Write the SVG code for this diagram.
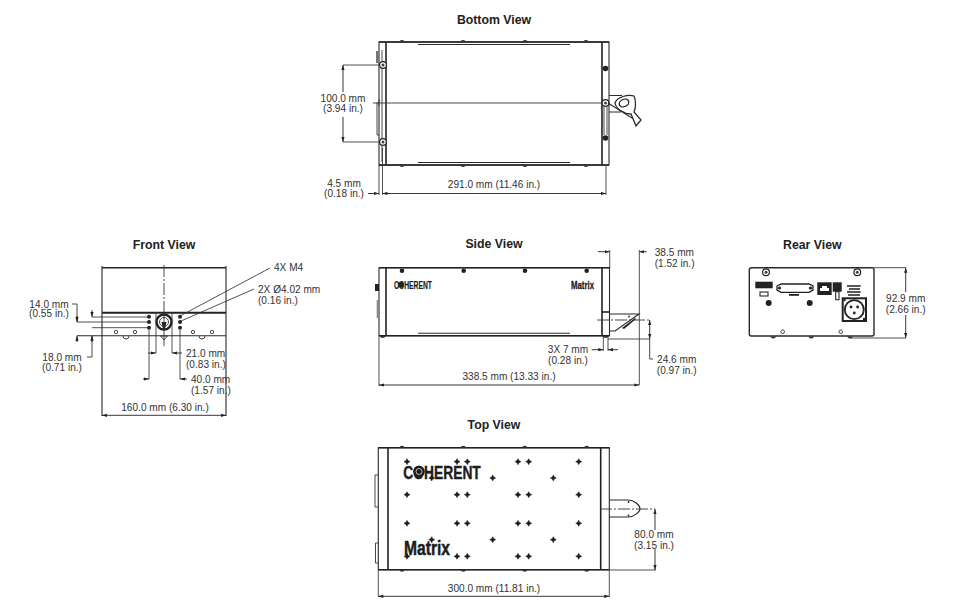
<svg xmlns="http://www.w3.org/2000/svg" xmlns:xlink="http://www.w3.org/1999/xlink" width="960" height="607" viewBox="0 0 960 607">
<style>
text{font-family:"Liberation Sans",Arial,sans-serif;fill:#333}
.t{font-size:12.3px;font-weight:bold;text-anchor:middle;fill:#222}
.d{font-size:10.1px}
.m{text-anchor:middle}
.o{fill:none;stroke:#2a2a2a;stroke-width:1.1}
.h{fill:none;stroke:#222;stroke-width:1.6}
.k{fill:#222;stroke:none}
.n{fill:none;stroke:#333;stroke-width:.9}
.w{fill:#fff;stroke:#222;stroke-width:.9}
.c{fill:none;stroke:#333;stroke-width:.9;stroke-dasharray:12 2 2 2}
.a{fill:none;stroke:#222;stroke-width:.9;marker-start:url(#as);marker-end:url(#ae)}
.e{fill:none;stroke:#222;stroke-width:.9;marker-end:url(#ae)}
.l{fill:none;stroke:#333;stroke-width:.85}
.logo{font-family:"Liberation Sans Narrow","Liberation Sans",sans-serif;font-weight:bold;fill:#1c1c1c;stroke:#1c1c1c}
</style>
<defs>
<marker id="ae" markerWidth="6" markerHeight="4" refX="5" refY="2" orient="auto" markerUnits="userSpaceOnUse"><path d="M0 .4L5 2L0 3.6z" fill="#222"/></marker>
<marker id="as" markerWidth="6" markerHeight="4" refX="0" refY="2" orient="auto" markerUnits="userSpaceOnUse"><path d="M5 .4L0 2L5 3.6z" fill="#222"/></marker>
<path id="star" d="M0-3L1-1.1L3 0L1 1.1L0 3L-1 1.1L-3 0L-1-1.1z" fill="#1c1c1c" stroke="#1c1c1c" stroke-width=".5"/>
<g id="screw"><circle r="3.4" fill="#fff" stroke="#222" stroke-width="1.2"/><circle r="1.5" fill="#444"/></g>
<path id="bt" d="M-2.6 0A2.6 2 0 0 0 2.6 0z" fill="#333"/>
<path id="bu" d="M-2.6 0A2.6 2 0 0 1 2.6 0z" fill="#333"/>
</defs>
<rect width="960" height="607" fill="#fff"/>

<g id="bottom-view">
<text class="t" x="494" y="24">Bottom View</text>
<rect class="o" x="379" y="42" width="230" height="123"/>
<path class="h" d="M386 42V165M602 42V165M379 42H609M379 165H609"/>
<path class="o" d="M418 44.5H570M418 162.5H570"/>
<path class="n" d="M373 103H605"/>
<use xlink:href="#bu" x="402" y="42"/><use xlink:href="#bu" x="463" y="42"/><use xlink:href="#bu" x="525" y="42"/><use xlink:href="#bu" x="586" y="42"/>
<use xlink:href="#bt" x="402" y="165"/><use xlink:href="#bt" x="463" y="165"/><use xlink:href="#bt" x="525" y="165"/><use xlink:href="#bt" x="586" y="165"/>
<rect x="376" y="51" width="3" height="12" fill="#777"/>
<path class="n" d="M377 102V135H379M382 50V162M380 100H379V106"/>
<use xlink:href="#screw" x="383" y="65"/><use xlink:href="#screw" x="383" y="142"/>
<circle class="k" cx="605.5" cy="68.5" r="2.8"/><use xlink:href="#screw" x="605.5" y="103"/><circle class="k" cx="605.5" cy="138" r="2.8"/>
<path class="n" d="M604 107V135M607 107V135"/>
<path class="o" d="M609 95.5H622M609 112H621"/>
<path class="o" d="M615 103C617 97 628 94 634 96C636 100 636 108 634 112L641 120L636 126L631 114C624 114 616 109 615 103Z" style="stroke-width:1.3"/>
<ellipse cx="624" cy="103" rx="5" ry="3.6" transform="rotate(-25 624 103)" fill="none" stroke="#222" stroke-width="1.3"/>
<path class="o" d="M608 103L632 118"/>
</g>

<g id="front-view">
<text class="t" x="164" y="249">Front View</text>
<path class="h" d="M102 267.7H226"/>
<path class="o" d="M102 266V416M226 266V416"/>
<path class="h" d="M102 312.7H226" style="stroke-width:1.9"/>
<path class="o" d="M77 335.7H226"/>
<path class="c" d="M164 265V312"/>
<circle cx="164" cy="322" r="7.5" fill="#fff" stroke="#222" stroke-width="2.4"/>
<circle cx="164" cy="322" r="4.5" class="n"/>
<path class="k" d="M161.5 322H166.5L165 329H163z"/>
<path class="n" d="M164 312V346M160.5 336H167.5L164 340z"/>
<circle class="k" cx="149" cy="316.7" r="2"/><circle class="k" cx="149" cy="322" r="2"/><circle class="k" cx="149" cy="327.7" r="2"/>
<circle class="k" cx="180" cy="316.7" r="2"/><circle class="k" cx="180" cy="322" r="2"/><circle class="k" cx="180" cy="327.7" r="2"/>
<circle class="n" cx="116" cy="332" r="1.7"/><circle class="n" cx="135" cy="332" r="1.7"/><circle class="n" cx="193" cy="332" r="1.7"/><circle class="n" cx="212" cy="332" r="1.7"/>
<path class="n" d="M123 336A3 3 0 0 0 129 336M199 336A3 3 0 0 0 205 336"/>
</g>

<g id="side-view">
<text class="t" x="494" y="248">Side View</text>
<rect class="o" x="379" y="267.7" width="230.5" height="68"/>
<path class="h" d="M386 267.7V335.7M602 267.7V335.7M379 267.7H609.5M379 335.7H609.5"/>
<path class="o" d="M418 333.3H570"/>
<circle class="k" cx="402" cy="270.7" r="2.3"/><circle class="k" cx="463.7" cy="270.7" r="2.3"/><circle class="k" cx="525" cy="270.7" r="2.3"/><circle class="k" cx="586.7" cy="270.7" r="2.3"/>
<text class="logo" x="394" y="288.5" font-size="10" stroke-width=".2" textLength="38" lengthAdjust="spacingAndGlyphs">COHERENT</text>
<circle class="k" cx="400.7" cy="284.8" r="3"/>
<text class="logo" x="571" y="288.5" font-size="10.5" stroke-width=".3" textLength="23" lengthAdjust="spacingAndGlyphs">Matrix</text>
<rect class="k" x="375" y="284" width="4" height="7"/>
<rect x="376.7" y="300" width="2.3" height="18" fill="#888"/>
<use xlink:href="#bt" x="382.7" y="336"/><use xlink:href="#bt" x="605.7" y="336"/>
<path class="h" d="M602 312H609.5"/>
<path class="o" d="M609.5 314H639L615 331H609.5"/>
<circle class="k" cx="629" cy="316.5" r=".9"/>
<path class="k" d="M622 328L635 318L636 319L624 329z"/>
</g>

<g id="rear-view">
<text class="t" x="812.3" y="249">Rear View</text>
<rect class="o" x="749.3" y="267.7" width="124.7" height="68.3" rx="2" style="stroke-width:1.4"/>
<use xlink:href="#screw" x="766" y="272.3"/><use xlink:href="#screw" x="857.3" y="272.3"/>
<rect class="k" x="755.3" y="281.7" width="17.4" height="6.6"/>
<rect class="o" x="760" y="292" width="8" height="4"/>
<path class="w" d="M777 286L781 284H809L813 286V290L809 292.3H781L777 290z" style="stroke-width:1.3"/>
<circle class="k" cx="779.5" cy="288" r="1.6"/><circle class="k" cx="810.5" cy="288" r="1.6"/>
<rect class="k" x="789" y="294" width="10" height="1.8"/>
<circle class="k" cx="768.7" cy="303" r="3"/><circle class="k" cx="809.7" cy="303" r="3"/>
<rect class="k" x="817.3" y="282.3" width="14.4" height="12.7"/>
<path d="M820 291V288H822V286H827V288H829V291z" fill="#fff"/>
<rect class="k" x="832.7" y="282.3" width="9" height="9.4"/>
<rect class="o" x="835.7" y="291.7" width="3.3" height="8"/>
<path d="M847 286H860.7M849 289H860M847 292H860.7M848 295H860" stroke="#222" stroke-width="1.4" fill="none"/>
<rect x="842.7" y="298.3" width="23.3" height="22.7" fill="#fff" stroke="#222" stroke-width="2"/>
<circle cx="854.3" cy="309.7" r="9.5" fill="#fff" stroke="#222" stroke-width="1.8"/>
<circle class="k" cx="851" cy="307" r="1.4"/><circle class="k" cx="857.6" cy="307" r="1.4"/><circle class="k" cx="854.3" cy="313" r="1.4"/>
<circle class="k" cx="844.5" cy="300" r="1.2"/><circle class="k" cx="864" cy="319" r="1.2"/>
<circle class="n" cx="782.7" cy="331.7" r="1.8"/><circle class="n" cx="840.7" cy="331.7" r="1.8"/>
<use xlink:href="#bt" x="773.3" y="336.5"/><use xlink:href="#bt" x="811.3" y="336.5"/><use xlink:href="#bt" x="850" y="336.5"/>
</g>

<g id="top-view">
<text class="t" x="494" y="429">Top View</text>
<rect class="o" x="378.3" y="447.7" width="231" height="122"/>
<path class="h" d="M388 447.7V569.7M600.7 447.7V569.7M378.3 447.7H609.3M378.3 569.7H609.3"/>
<use xlink:href="#bu" x="402" y="447.7"/><use xlink:href="#bu" x="463.3" y="447.7"/><use xlink:href="#bu" x="524.7" y="447.7"/><use xlink:href="#bu" x="586.7" y="447.7"/>
<use xlink:href="#bt" x="402" y="569.7"/><use xlink:href="#bt" x="463.3" y="569.7"/><use xlink:href="#bt" x="524.7" y="569.7"/><use xlink:href="#bt" x="586.7" y="569.7"/>
<path class="n" d="M378.3 475H375V507H378.3M378.3 543H375.5V563H378.3"/>
<g id="stars">
<use xlink:href="#star" x="407" y="461.7"/><use xlink:href="#star" x="457" y="461.7"/><use xlink:href="#star" x="467.3" y="461.7"/><use xlink:href="#star" x="518" y="461.7"/><use xlink:href="#star" x="528.7" y="461.7"/><use xlink:href="#star" x="578.7" y="461.7"/>
<use xlink:href="#star" x="407" y="494.7"/><use xlink:href="#star" x="457" y="494.7"/><use xlink:href="#star" x="467.3" y="494.7"/><use xlink:href="#star" x="518" y="494.7"/><use xlink:href="#star" x="528.7" y="494.7"/><use xlink:href="#star" x="578.7" y="494.7"/>
<use xlink:href="#star" x="407" y="523.3"/><use xlink:href="#star" x="457" y="523.3"/><use xlink:href="#star" x="467.3" y="523.3"/><use xlink:href="#star" x="518" y="523.3"/><use xlink:href="#star" x="528.7" y="523.3"/><use xlink:href="#star" x="578.7" y="523.3"/>
<use xlink:href="#star" x="407" y="556.3"/><use xlink:href="#star" x="457" y="556.3"/><use xlink:href="#star" x="467.3" y="556.3"/><use xlink:href="#star" x="518" y="556.3"/><use xlink:href="#star" x="528.7" y="556.3"/><use xlink:href="#star" x="578.7" y="556.3"/>
<use xlink:href="#star" x="431.7" y="478"/><use xlink:href="#star" x="492.7" y="478"/><use xlink:href="#star" x="553.3" y="478"/>
<use xlink:href="#star" x="431.7" y="539.7"/><use xlink:href="#star" x="492.7" y="539.7"/><use xlink:href="#star" x="553.3" y="539.7"/>
</g>
<text class="logo" x="403.3" y="478.5" font-size="19" stroke-width=".4" textLength="77.5" lengthAdjust="spacingAndGlyphs">COHERENT</text>
<circle cx="419" cy="471.5" r="5.8" fill="#1c1c1c"/><circle cx="419" cy="471.5" r="3" fill="none" stroke="#fff" stroke-width=".7"/>
<text class="logo" x="404" y="555" font-size="20.5" stroke-width=".5" textLength="46" lengthAdjust="spacingAndGlyphs">Matrix</text>
<path class="o" d="M609.3 500H628C634 500 640 505 640 508.7C640 512 634 517 628 517H609.3"/>
<circle class="k" cx="628.5" cy="502" r=".9"/><circle class="k" cx="628.5" cy="515.5" r=".9"/>
</g>

<g id="connectors">
<path class="l" d="M343 65H380M343 142H380"/>
<path class="e" d="M343 92V65"/><path class="e" d="M343 117V142"/>
<path class="l" d="M379 165V195M382.5 148V195M606 165V195"/>
<path class="e" d="M368 193.5H379"/><path class="a" d="M382.5 193.5H606"/>

<path class="l" d="M92 317H148M77 322H148M92 327.7H148"/>
<path class="n" d="M72 304H77V322"/><path class="e" d="M77 316V322"/><path class="e" d="M77 342V335.7"/>
<path class="e" d="M92 310V317"/><path class="n" d="M87 357H92V336"/><path class="e" d="M92 342V335.7"/>
<path class="l" d="M156 312V353M172 312V353M149 330V379M180 330V379"/>
<path class="e" d="M148 353H156"/><path class="e" d="M182 353H172"/>
<path class="e" d="M143 379H149"/><path class="e" d="M187 379H180"/>
<path class="a" d="M102 415.3H226"/>
<path class="l" d="M270 268L180 316M254 289L181 321"/>

<path class="e" d="M598 251.7H609.7"/><path class="e" d="M646.7 251.7H639.3"/>
<path class="l" d="M609.7 250V268M639.3 250V385M379 336V386"/>
<path class="c" d="M597 320H650"/>
<path class="l" d="M608 339H650"/>
<path class="a" d="M649.7 320V339"/><path class="n" d="M649.7 339V359H653"/>
<path class="l" d="M603.3 336V351M608 336V351"/>
<path class="e" d="M591.7 349.7H603.3"/><path class="e" d="M618 349.7H608"/>
<path class="a" d="M379 385H639.3"/>

<path class="l" d="M874 267.7H906M850 338H906"/>
<path class="e" d="M905.7 292V267.7"/><path class="e" d="M905.7 315V338"/>

<path class="c" d="M600 509H655"/>
<path class="l" d="M610 570H656M378.3 570V597M609.3 570V597"/>
<path class="e" d="M655 530V509"/><path class="e" d="M655 549V570"/>
<path class="a" d="M378.3 596.3H609.3"/>
</g>

<g id="labels">
<g class="d">
<text class="m" x="343" y="102">100.0 mm</text><text class="m" x="343" y="112">(3.94 in.)</text>
<text class="m" x="344" y="186.5">4.5 mm</text><text class="m" x="344" y="197">(0.18 in.)</text>
<text class="m" x="494" y="188">291.0 mm (11.46 in.)</text>
<text class="m" x="49" y="307.5">14.0 mm</text><text class="m" x="49" y="317">(0.55 in.)</text>
<text class="m" x="62" y="360.5">18.0 mm</text><text class="m" x="62" y="371">(0.71 in.)</text>
<text x="186" y="357">21.0 mm</text><text x="186" y="367.5">(0.83 in.)</text>
<text x="191" y="382.5">40.0 mm</text><text x="191" y="393.5">(1.57 in.)</text>
<text class="m" x="165" y="410.5">160.0 mm (6.30 in.)</text>
<text x="274" y="270.5">4X M4</text>
<text x="258" y="292.5">2X Ø4.02 mm</text><text x="258" y="303.5">(0.16 in.)</text>
<text x="654.7" y="255.5">38.5 mm</text><text x="654.7" y="266.5">(1.52 in.)</text>
<text class="m" x="568" y="353">3X 7 mm</text><text class="m" x="568" y="363.5">(0.28 in.)</text>
<text class="m" x="676.7" y="363">24.6 mm</text><text class="m" x="676.7" y="373.5">(0.97 in.)</text>
<text class="m" x="509" y="380">338.5 mm (13.33 in.)</text>
<text class="m" x="905.7" y="302">92.9 mm</text><text class="m" x="905.7" y="312.5">(2.66 in.)</text>
<text class="m" x="654" y="537.5">80.0 mm</text><text class="m" x="654" y="548.5">(3.15 in.)</text>
<text class="m" x="494" y="591.5">300.0 mm (11.81 in.)</text>
</g>
</g>
</svg>
